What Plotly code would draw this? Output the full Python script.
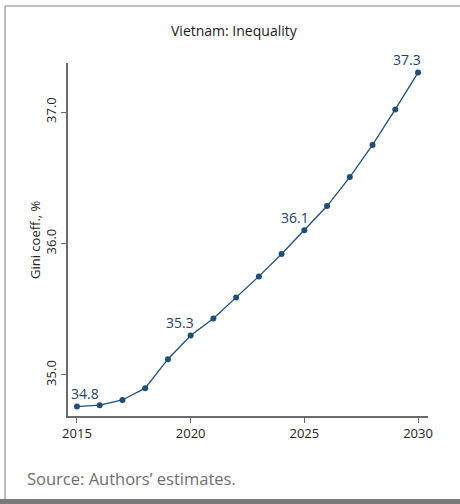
import plotly.graph_objects as go

years = list(range(2015, 2031))
gini = [34.76, 34.77, 34.81, 34.90, 35.12, 35.30, 35.43, 35.59, 35.75, 35.92,
        36.10, 36.285, 36.505, 36.75, 37.02, 37.30]
label_years = [2015, 2020, 2025, 2030]
label_texts = ["34.8", "35.3", "36.1", "37.3"]
label_xshift = [8, -11, -9, -11]

title_text = "Vietnam: Inequality"
y_title = "Gini coeff., %"
source_text = "Source: Authors\u2019 estimates."
x_ticks = [2015, 2020, 2025, 2030]
y_ticks = [35.0, 36.0, 37.0]

line_col = "#1d4f7c"
lab_col = "#25406d"
axis_col = "#6b6b6b"
font_fam = "Open Sans, Noto Sans, sans-serif"

fig = go.Figure()
fig.add_trace(go.Scatter(
    x=years, y=gini, mode="lines+markers",
    line=dict(color=line_col, width=1.3),
    marker=dict(color=line_col, size=6),
    hoverinfo="skip", showlegend=False,
))

annotations = []
for yr, txt, xs in zip(label_years, label_texts, label_xshift):
    annotations.append(dict(
        x=yr, y=gini[years.index(yr)], text=txt, showarrow=False,
        xref="x", yref="y", yshift=13, xshift=xs,
        font=dict(family=font_fam, size=14, color=lab_col),
    ))
annotations.append(dict(
    x=(234 - 68) / 360.0, y=(416 - 30) / 353.0, xref="paper", yref="paper",
    text=title_text, showarrow=False, yanchor="middle",
    font=dict(family=font_fam, size=14, color="#1a1a1a"),
))
annotations.append(dict(
    x=(25 - 68) / 360.0, y=(416 - 478) / 353.0, xref="paper", yref="paper",
    text=source_text, showarrow=False, xanchor="left", yanchor="middle",
    font=dict(family=font_fam, size=16.5, color="#6e6e6e"),
))
annotations.append(dict(
    x=(35 - 68) / 360.0, y=(416 - 240) / 353.0, xref="paper", yref="paper",
    text=y_title, showarrow=False, textangle=-90, xanchor="center", yanchor="middle",
    font=dict(family=font_fam, size=13, color="#222222"),
))

shapes = [
    dict(type="line", xref="paper", yref="paper",
         x0=(5 - 68) / 360.0, x1=(462 - 68) / 360.0,
         y0=(416 - 6) / 353.0, y1=(416 - 6) / 353.0,
         line=dict(color="#a8a8a8", width=1.5)),
    dict(type="line", xref="paper", yref="paper",
         x0=(5 - 68) / 360.0, x1=(5 - 68) / 360.0,
         y0=(416 - 6) / 353.0, y1=(416 - 500) / 353.0,
         line=dict(color="#a8a8a8", width=1.5)),
    dict(type="rect", xref="paper", yref="paper",
         x0=(0 - 68) / 360.0, x1=(462 - 68) / 360.0,
         y0=(416 - 499) / 353.0, y1=(416 - 505) / 353.0,
         fillcolor="#7a7a7a", line=dict(width=0)),
]

fig.update_layout(
    width=460, height=504,
    margin=dict(l=68, r=32, t=63, b=88),
    paper_bgcolor="white", plot_bgcolor="white",
    font=dict(family=font_fam, size=12, color="#222222"),
    annotations=annotations, shapes=shapes,
    xaxis=dict(
        range=[2014.605, 2030.44], tickvals=x_ticks, ticktext=[str(t) for t in x_ticks],
        showgrid=False, zeroline=False, showline=True, linecolor=axis_col, linewidth=1.5,
        ticks="outside", ticklen=5, tickcolor=axis_col, tickwidth=1.2,
        tickfont=dict(family=font_fam, size=13, color="#222222"),
    ),
    yaxis=dict(
        range=[34.688, 37.373], tickvals=y_ticks, ticktext=[f"{t:.1f}" for t in y_ticks],
        showgrid=False, zeroline=False, showline=True, linecolor=axis_col, linewidth=1.5,
        ticks="outside", ticklen=5, tickcolor=axis_col, tickwidth=1.2, tickangle=-90,
        tickfont=dict(family=font_fam, size=13, color="#222222"),
    ),
)

fig.write_html("out.html", config={"displayModeBar": False},
               post_script="document.body.style.margin='0';document.body.style.overflow='hidden';")
